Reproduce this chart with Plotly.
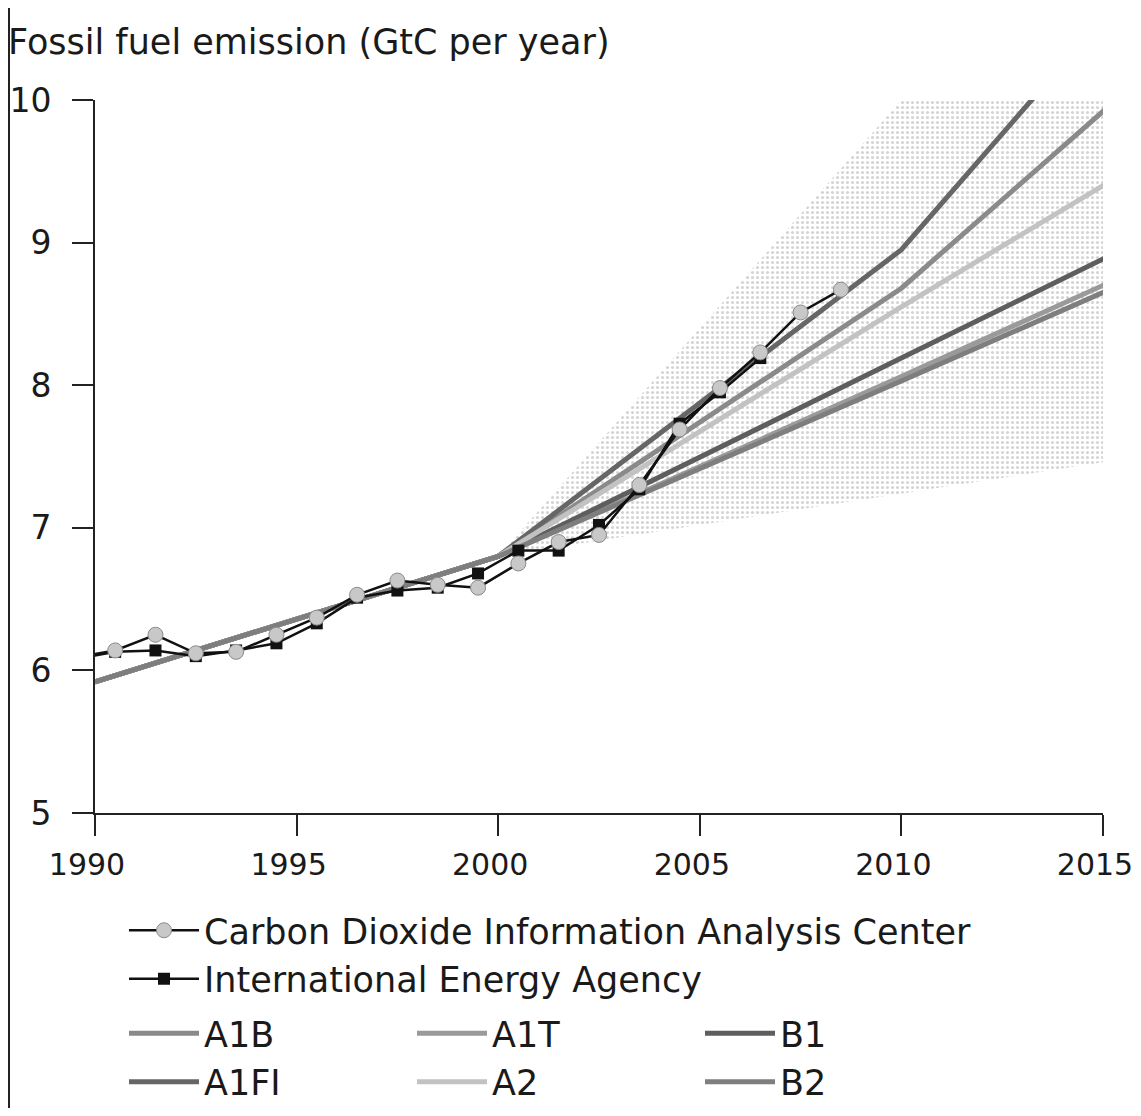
import plotly.graph_objects as go

FONT = "DejaVu Sans"
INK = "#1a1a1a"
FS = 35

# annual fossil fuel emissions (GtC per year), drawn at mid-year
cdiac_years = list(range(1989, 2009))
cdiac_values = [6.09, 6.14, 6.25, 6.12, 6.13, 6.25, 6.37, 6.53, 6.63, 6.60, 6.58,
                6.75, 6.90, 6.95, 7.30, 7.69, 7.98, 8.23, 8.51, 8.67]

iea_years = list(range(1989, 2007))
iea_values = [6.08, 6.13, 6.14, 6.10, 6.14, 6.19, 6.33, 6.51, 6.56, 6.58, 6.68,
              6.84, 6.84, 7.02, 7.27, 7.73, 7.95, 8.19]

# SRES scenario paths
scenario_years = [1990, 2000, 2010, 2020]
a1b = [5.92, 6.80, 8.68, 11.16]
a1fi = [5.92, 6.80, 8.95, 12.20]
a1t = [5.92, 6.80, 8.06, 9.34]
a2 = [5.92, 6.80, 8.55, 10.25]
b1 = [5.92, 6.80, 8.19, 9.58]
b2 = [5.92, 6.80, 8.03, 9.27]

# full scenario range (shaded)
range_upper_years = [2000, 2010, 2015]
range_upper = [6.80, 10.0, 10.0]
range_lower_years = [2015, 2000]
range_lower = [7.46, 6.80]

# name, values, colour, legend rank (row-wise: A1B A1T B1 / A1FI A2 B2)
scenarios = [
    ("A1B", a1b, "#8a8a8a", 1),
    ("A1T", a1t, "#9a9a9a", 2),
    ("B1", b1, "#5e5e5e", 3),
    ("A1FI", a1fi, "#666666", 4),
    ("A2", a2, "#c2c2c2", 5),
    ("B2", b2, "#7e7e7e", 6),
]

fig = go.Figure()

fig.add_trace(go.Scatter(
    x=range_upper_years + range_lower_years,
    y=range_upper + range_lower,
    fill="toself",
    mode="none",
    fillpattern=dict(shape=".", fgcolor="#a8a8a8", bgcolor="white", size=5, solidity=0.3),
    showlegend=False,
    hoverinfo="skip",
))

for name, vals, color, rank in scenarios:
    fig.add_trace(go.Scatter(
        x=scenario_years, y=vals, name=name, mode="lines",
        line=dict(color=color, width=5),
        legend="legend2", legendrank=rank,
    ))

fig.add_trace(go.Scatter(
    x=[y + 0.5 for y in iea_years], y=iea_values,
    name="International Energy Agency", mode="lines+markers",
    line=dict(color="#111111", width=2.5),
    marker=dict(symbol="square", size=12, color="#111111"),
    legend="legend", legendrank=2,
))
fig.add_trace(go.Scatter(
    x=[y + 0.5 for y in cdiac_years], y=cdiac_values,
    name="Carbon Dioxide Information Analysis Center", mode="lines+markers",
    line=dict(color="#111111", width=2.5),
    marker=dict(symbol="circle", size=15, color="#c8c8c8", line=dict(color="#8a8a8a", width=1)),
    legend="legend", legendrank=1,
))

axis_common = dict(
    showline=True, linecolor="#222222", linewidth=2,
    ticks="outside", ticklen=21, tickwidth=2, tickcolor="#222222",
    showgrid=False, zeroline=False,
)

fig.update_xaxes(range=[1990, 2015], tickvals=[1990, 1995, 2000, 2005, 2010, 2015],
                 tickfont=dict(family=FONT, size=30, color=INK),
                 ticklabelstandoff=3, ticklabelshift=-8, ticklabeloverflow="allow",
                 **axis_common)
fig.update_yaxes(range=[5, 10], dtick=1, ticklabelstandoff=14,
                 tickfont=dict(family=FONT, size=33, color=INK), **axis_common)

# page body adds an 8px offset; plot area sits at 87..1095 x 92..805 in figure px
W, H = 1133, 1100
legend_common = dict(
    font=dict(family=FONT, size=FS, color=INK),
    bgcolor="rgba(0,0,0,0)",
    itemwidth=70,
    xref="paper", yref="paper",
    xanchor="left", yanchor="top",
)

fig.update_layout(
    width=W, height=H,
    paper_bgcolor="white", plot_bgcolor="white",
    margin=dict(l=87, r=38, t=92, b=295, autoexpand=False),
    font=dict(family=FONT, size=FS, color=INK),
    title=dict(
        text="Fossil fuel emission (GtC per year)",
        x=0, y=1 - 34 / H, xanchor="left", yanchor="middle",
        xref="container", yref="container",
        font=dict(family=FONT, size=FS, color=INK),
    ),
    legend=dict(x=29 / 1008, y=-88 / 713, orientation="v", **legend_common),
    legend2=dict(x=29 / 1008, y=-191 / 713, orientation="h",
                 entrywidth=203, **legend_common),
    shapes=[dict(type="line", xref="paper", yref="paper",
                 x0=-86 / 1008, x1=-86 / 1008, y0=-0.42, y1=1.14,
                 line=dict(color="#222222", width=2))],
)

fig.write_html("out.html")
